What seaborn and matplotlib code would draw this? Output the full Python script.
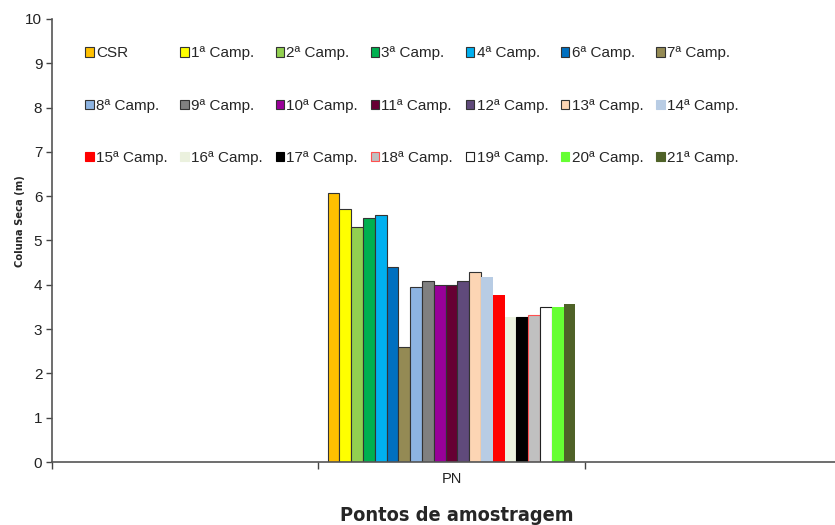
import matplotlib
matplotlib.use("Agg")
import matplotlib.pyplot as plt
from matplotlib.patches import Patch
import seaborn as sns
import pandas as pd

series = ["CSR", "1ª Camp.", "2ª Camp.", "3ª Camp.", "4ª Camp.", "6ª Camp.", "7ª Camp.",
          "8ª Camp.", "9ª Camp.", "10ª Camp.", "11ª Camp.", "12ª Camp.", "13ª Camp.", "14ª Camp.",
          "15ª Camp.", "16ª Camp.", "17ª Camp.", "18ª Camp.", "19ª Camp.", "20ª Camp.", "21ª Camp."]
values = [6.08, 5.70, 5.30, 5.50, 5.58, 4.40, 2.60,
          3.94, 4.09, 4.00, 4.00, 4.09, 4.30, 4.18,
          3.78, 3.28, 3.28, 3.31, 3.50, 3.49, 3.57]
category = "PN"
fills = ["#FFC000", "#FFFF00", "#92D050", "#00B050", "#00B0F0", "#0070C0", "#948A54",
         "#8DB4E2", "#808080", "#990099", "#660033", "#604A7B", "#FCD5B4", "#B8CCE4",
         "#FF0000", "#EBF1DE", "#000000", "#C0C0C0", "#FFFFFF", "#66FF33", "#4F6228"]
edges = ["#333333"] * 13 + ["none", "none", "none", "#000000", "#FF5050", "#222222", "none", "none"]

df = pd.DataFrame({"Ponto": [category] * len(series), "Campanha": series, "Valor": values})

sns.set_style("white")
plt.rcParams["font.family"] = ["Liberation Sans", "DejaVu Sans"]

fig = plt.figure(figsize=(8.35, 5.25), dpi=100)
ax = fig.add_axes([52 / 835, 63 / 525, 783 / 835, 443 / 525])

sns.barplot(data=df, x="Ponto", y="Valor", hue="Campanha", hue_order=series,
            palette=fills, width=0.93, saturation=1, legend=False, ax=ax)

for cont, ec in zip(ax.containers, edges):
    for p in cont.patches:
        if ec == "none":
            p.set_edgecolor(p.get_facecolor())
            p.set_linewidth(0)
        else:
            p.set_edgecolor(ec)
            p.set_linewidth(0.8)

ax.set_ylim(0, 10)
ax.set_yticks(range(0, 11))
ax.set_xlim(-1.5, 1.44)
ax.set_xticks([0])
ax.set_xticklabels([category])
ax.set_xticks([-1.5, -0.5, 0.5], minor=True)
ax.tick_params(axis="x", which="major", length=0, pad=7, labelsize=10.5, colors="#222222")
ax.tick_params(axis="x", which="minor", length=5, width=1, direction="out", color="#444444", bottom=True)
ax.tick_params(axis="y", length=4, width=1, direction="out", color="#444444", left=True,
               labelsize=11, colors="#222222", pad=3)

for s in ["top", "right"]:
    ax.spines[s].set_visible(False)
for s in ["left", "bottom"]:
    ax.spines[s].set_color("#555555")
    ax.spines[s].set_linewidth(1.2)

ax.set_ylabel("Coluna Seca (m)", fontsize=8, fontweight="bold",
              family="DejaVu Sans", fontstretch="condensed")
ax.yaxis.set_label_coords(-0.034, 0.544)
ax.set_xlabel("Pontos de amostragem", fontsize=14.3, fontweight="bold",
              family="DejaVu Sans", fontstretch="condensed")
ax.xaxis.set_label_coords(0.517, -0.1)

handles = [Patch(facecolor=f, edgecolor=(e if e != "none" else f), linewidth=0.8)
           for f, e in zip(fills, edges)]
order = [r * 7 + c for c in range(7) for r in range(3)]
leg = ax.legend([handles[i] for i in order], [series[i] for i in order], ncol=7,
                frameon=False, fontsize=11, handlelength=0.55, handleheight=0.55,
                handletextpad=0.15, columnspacing=0.84, labelspacing=2.51,
                loc="upper left", bbox_to_anchor=(0.025, 0.969))

fig.savefig("out.png", dpi=100)
